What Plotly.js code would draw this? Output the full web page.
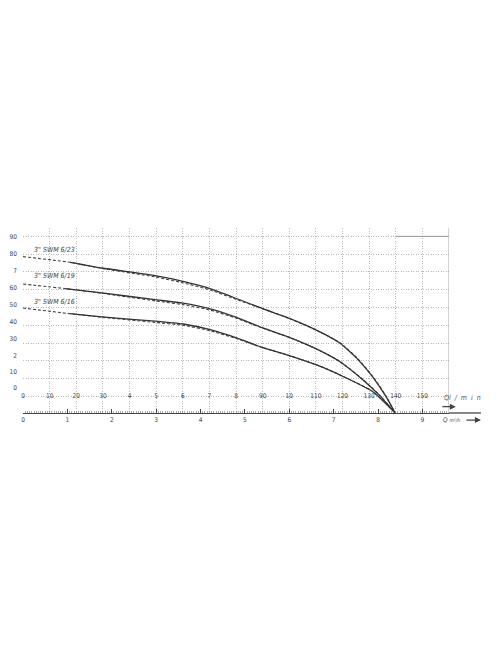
<!DOCTYPE html>
<html>
<head>
<meta charset="utf-8">
<script src="https://cdn.plot.ly/plotly-3.0.1.min.js"></script>
<style>html,body{margin:0;padding:0;background:#fff;}#chart{width:496px;height:664px;}</style>
</head>
<body>
<div id="chart"></div>
<script>
// Flow in l/min, head in grid units (m)
const Q_TOP = [0, 17.7, 29.6, 49.6, 60.1, 70.3, 80.4, 90.1, 100.3, 111.5, 119.0, 125.4, 131.4, 136.7, 139.7];
const H_TOP_SOLID = [78.6, 75.4, 72.2, 67.9, 64.7, 60.6, 54.9, 49.3, 43.7, 36.3, 30.0, 21.4, 10.8, -1.0, -9.2];
const H_TOP_DASH  = [78.6, 75.4, 72.0, 67.2, 63.9, 59.8, 54.4, 49.2, 43.7, 36.3, 30.2, 21.7, 11.2, -0.7, -9.2];

const Q_MID = [0, 15.9, 29.6, 49.6, 60.1, 70.3, 80.4, 90.1, 100.3, 111.5, 119.0, 127.6, 134.0, 139.7];
const H_MID_SOLID = [63.2, 60.6, 58.2, 54.4, 52.4, 49.2, 44.3, 38.5, 33.0, 25.7, 19.5, 9.4, 0.4, -9.2];
const H_MID_DASH  = [63.2, 60.6, 58.0, 53.7, 51.6, 48.5, 43.8, 38.3, 33.0, 25.8, 19.7, 9.6, 0.6, -9.2];

const Q_BOT = [0, 17.7, 29.6, 49.6, 60.1, 70.3, 80.4, 90.1, 100.3, 111.5, 121.6, 131.4, 139.7];
const H_BOT_SOLID = [49.7, 46.5, 44.7, 42.3, 40.7, 37.5, 32.8, 27.4, 22.8, 17.0, 10.2, 2.6, -9.2];
const H_BOT_DASH  = [49.7, 46.5, 44.5, 41.6, 40.0, 36.9, 32.4, 27.3, 22.8, 17.0, 10.3, 2.7, -9.2];

const SERIES_NAMES = ['3" SWM 6/23', '3" SWM 6/19', '3" SWM 6/16'];

const LMIN_TICKS = [0, 10, 20, 30, 40, 50, 60, 70, 80, 90, 100, 110, 120, 130, 140, 150];
const LMIN_LABELS = ['0', '10', '20', '30', '4', '5', '6', '7', '8', '90', '10', '110', '120', '130', '140', '150'];
const M3H_TICKS = [0, 1, 2, 3, 4, 5, 6, 7, 8, 9];
const M3H_LABELS = ['0', '1', '2', '3', '4', '5', '6', '7', '8', '9'];
const HEAD_GRID = [0, 10, 20, 30, 40, 50, 60, 70, 80, 90];
const HEAD_LABELS = ['90', '80', '7', '60', '50', '40', '30', '2', '10', '0'];

const FONT = 'Liberation Sans Narrow, DejaVu Sans Condensed, Liberation Sans, sans-serif';
const LINE_COL = '#333';
const GRID_COL = '#b8b8b8';

function solid(q, h) {
  return {x: q.slice(1), y: h.slice(1), mode: 'lines', type: 'scatter', hoverinfo: 'skip',
          line: {color: LINE_COL, width: 1.3, shape: 'spline', smoothing: 0.5}};
}
function dashed(q, h) {
  return {x: q, y: h, mode: 'lines', type: 'scatter', hoverinfo: 'skip',
          line: {color: '#444', width: 1.1, dash: '3px,2px', shape: 'spline', smoothing: 0.5}};
}

const traces = [
  dashed(Q_TOP, H_TOP_DASH), solid(Q_TOP, H_TOP_SOLID),
  dashed(Q_MID, H_MID_DASH), solid(Q_MID, H_MID_SOLID),
  dashed(Q_BOT, H_BOT_DASH), solid(Q_BOT, H_BOT_SOLID),
  {x: [null], y: [null], xaxis: 'x2', yaxis: 'y', mode: 'lines', hoverinfo: 'skip'},
  {x: [null], y: [null], xaxis: 'x', yaxis: 'y2', mode: 'lines', hoverinfo: 'skip'}
];

const YR = [-9.35, 94.7];
const layout = {
  width: 496, height: 664,
  margin: {l: 23, r: 47, t: 228, b: 251},
  paper_bgcolor: '#fff', plot_bgcolor: '#fff',
  showlegend: false,
  font: {family: FONT, size: 6.5, color: '#444'},
  xaxis: {
    range: [0, 160], tickmode: 'array', tickvals: LMIN_TICKS, ticktext: LMIN_LABELS,
    showgrid: true, gridcolor: GRID_COL, griddash: '1px,1.5px', gridwidth: 1,
    zeroline: false, showline: false, ticks: '',
    anchor: 'free', position: 0.0899, ticklabelstandoff: -6,
    tickfont: {family: FONT, size: 6.5, color: '#444'}
  },
  xaxis2: {
    range: [0, 9.6], overlaying: 'x', anchor: 'y', side: 'bottom',
    tickmode: 'array', tickvals: M3H_TICKS, ticktext: M3H_LABELS,
    ticks: 'inside', ticklen: 4, tickcolor: '#444', tickwidth: 1,
    showline: true, linecolor: '#444', linewidth: 1.3,
    minor: {dtick: 0.05, ticks: 'inside', ticklen: 2, tickcolor: '#777', tickwidth: 0.6},
    showgrid: false, zeroline: false,
    tickfont: {family: FONT, size: 6.5, color: '#444'}
  },
  yaxis: {
    range: YR, tickmode: 'array', tickvals: HEAD_GRID, showticklabels: false,
    showgrid: true, gridcolor: GRID_COL, griddash: '1px,1.5px', gridwidth: 1,
    zeroline: false, showline: false, ticks: ''
  },
  yaxis2: {
    range: YR, overlaying: 'y', side: 'left', anchor: 'x',
    tickmode: 'array', tickvals: [89.7, 80.3, 70.9, 61.3, 51.6, 41.8, 32.5, 22.9, 14.1, 4.7], ticktext: HEAD_LABELS,
    showgrid: false, zeroline: false, showline: false, ticks: '', ticklabelstandoff: 5,
    tickfont: {family: FONT, size: 6.5, color: '#444'}
  },
  shapes: [
    {type: 'line', xref: 'paper', yref: 'paper', x0: 1, x1: 1.075, y0: 0, y1: 0,
     line: {color: '#444', width: 1.3}},
    {type: 'line', xref: 'x', yref: 'y', x0: 140, x1: 160, y0: 90, y1: 90,
     line: {color: '#999', width: 1}},
    {type: 'line', xref: 'x', yref: 'y', x0: 160, x1: 160, y0: YR[0], y1: YR[1],
     line: {color: '#aaa', width: 1}}
  ],
  annotations: [
    {xref: 'x', yref: 'y', x: 3.4, y: 82.2, xanchor: 'left', yanchor: 'middle', showarrow: false,
     text: SERIES_NAMES[0], font: {family: FONT, size: 7, color: '#444', style: 'italic'}},
    {xref: 'x', yref: 'y', x: 3.4, y: 67.6, xanchor: 'left', yanchor: 'middle', showarrow: false,
     text: SERIES_NAMES[1], font: {family: FONT, size: 7, color: '#444', style: 'italic'}},
    {xref: 'x', yref: 'y', x: 3.4, y: 53.3, xanchor: 'left', yanchor: 'middle', showarrow: false,
     text: SERIES_NAMES[2], font: {family: FONT, size: 7, color: '#444', style: 'italic'}},
    {xref: 'paper', yref: 'y', x: 0.984, y: -0.7, xanchor: 'left', yanchor: 'middle', showarrow: false,
     text: 'Ql  /  m  i  n', font: {family: FONT, size: 7, color: '#555', style: 'italic'}},
    {xref: 'paper', yref: 'y', x: 1.016, y: -5.8, ax: -15, ay: 0, axref: 'pixel', ayref: 'pixel',
     text: '', showarrow: true, arrowhead: 2, arrowsize: 1, arrowwidth: 1.2, arrowcolor: '#444'},
    {xref: 'paper', yref: 'paper', x: 0.982, y: -0.038, xanchor: 'left', yanchor: 'middle', showarrow: false,
     text: 'Q <span style="font-size:5px">m³/h</span>', font: {family: FONT, size: 6.5, color: '#444', style: 'italic'}},
    {xref: 'paper', yref: 'paper', x: 1.075, y: -0.038, ax: -16, ay: 0, axref: 'pixel', ayref: 'pixel',
     text: '', showarrow: true, arrowhead: 2, arrowsize: 1, arrowwidth: 1.2, arrowcolor: '#444'}
  ]
};

Plotly.newPlot('chart', traces, layout, {staticPlot: true, displayModeBar: false});
</script>
</body>
</html>
